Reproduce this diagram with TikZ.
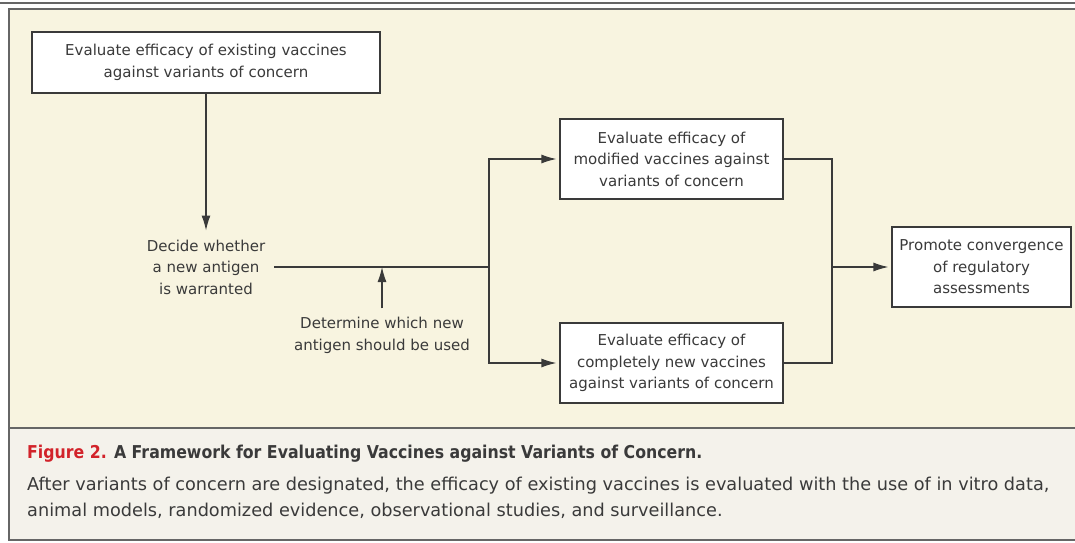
\documentclass[tikz,border=0pt]{standalone}
\usepackage{fontspec}
\setmainfont{DejaVu Sans}
\newfontfamily\titlefont[FakeStretch=0.89]{DejaVu Sans}
\usetikzlibrary{arrows.meta}
\definecolor{panel}{HTML}{F8F4E0}
\definecolor{capbg}{HTML}{F4F2EB}
\definecolor{rule}{HTML}{3A3A3A}
\definecolor{frame}{HTML}{666666}
\definecolor{figred}{HTML}{D2232A}
\tikzset{
  box/.style={draw=rule, fill=white, line width=1.2pt, align=center, inner sep=0pt,
    font=\fontsize{15}{21.5}\selectfont, text=rule},
  note/.style={align=center, inner sep=9pt, font=\fontsize{15}{21.5}\selectfont, text=rule},
  link/.style={draw=rule, line width=1.2pt},
  arr/.style={link, -{Latex[length=15pt,width=9pt]}},
  captext/.style={anchor=base west, inner sep=0pt, font=\fontsize{17.7}{26}\selectfont, text=rule}
}
\begin{document}
\begin{tikzpicture}[x=1pt,y=-1pt]
  \useasboundingbox (0,0) rectangle (1075,542);
  %% frame
  \fill[panel] (9,9) rectangle (1075,428);
  \fill[capbg] (9,428) rectangle (1075,540);
  \draw[frame, line width=1.3pt] (0,3) -- (1075,3);
  \draw[frame, line width=1.3pt] (1075,9) -- (9,9) -- (9,540) -- (1075,540);
  \draw[frame, line width=2pt] (9,428) -- (1075,428);
  %% boxes
  \node[box, minimum width=348pt, minimum height=61pt] (existing) at (206,62.5)
    {Evaluate efficacy of existing vaccines\\against variants of concern};
  \node[box, minimum width=223pt, minimum height=80pt] (modified) at (671.5,159)
    {Evaluate efficacy of\\modified vaccines against\\variants of concern};
  \node[box, minimum width=223pt, minimum height=80pt] (newvac) at (671.5,363)
    {Evaluate efficacy of\\completely new vaccines\\against variants of concern};
  \node[box, minimum width=179pt, minimum height=80pt] (promote) at (981.5,267)
    {Promote convergence\\of regulatory\\assessments};
  %% notes
  \node[note] (decide) at (206,267) {Decide whether\\a new antigen\\is warranted};
  \node[note] (determine) at (382,335.5) {Determine which new\\antigen should be used};
  \coordinate (split) at (489,267);
  \coordinate (merge) at (832,267);
  %% connectors
  \draw[arr] (existing) -- (decide.north);
  \draw[link] (decide.east) -- (split);
  \draw[arr] (determine.north) -- (determine.north |- split);
  \draw[arr, shorten >=3pt] (split) |- (modified.west);
  \draw[arr, shorten >=3pt] (split) |- (newvac.west);
  \draw[link] (modified.east) -| (merge) |- (newvac.east);
  \draw[arr, shorten >=3pt] (merge) -- (promote.west);
  %% caption
  \node[captext] (title) at (27,458)
    {\titlefont\bfseries\textcolor{figred}{Figure 2.} A Framework for Evaluating Vaccines against Variants of Concern.};
  \node[captext] (body1) at (27,490)
    {After variants of concern are designated, the efficacy of existing vaccines is evaluated with the use of in vitro data,};
  \node[captext] (body2) at (27,516)
    {animal models, randomized evidence, observational studies, and surveillance.};
\end{tikzpicture}
\end{document}
